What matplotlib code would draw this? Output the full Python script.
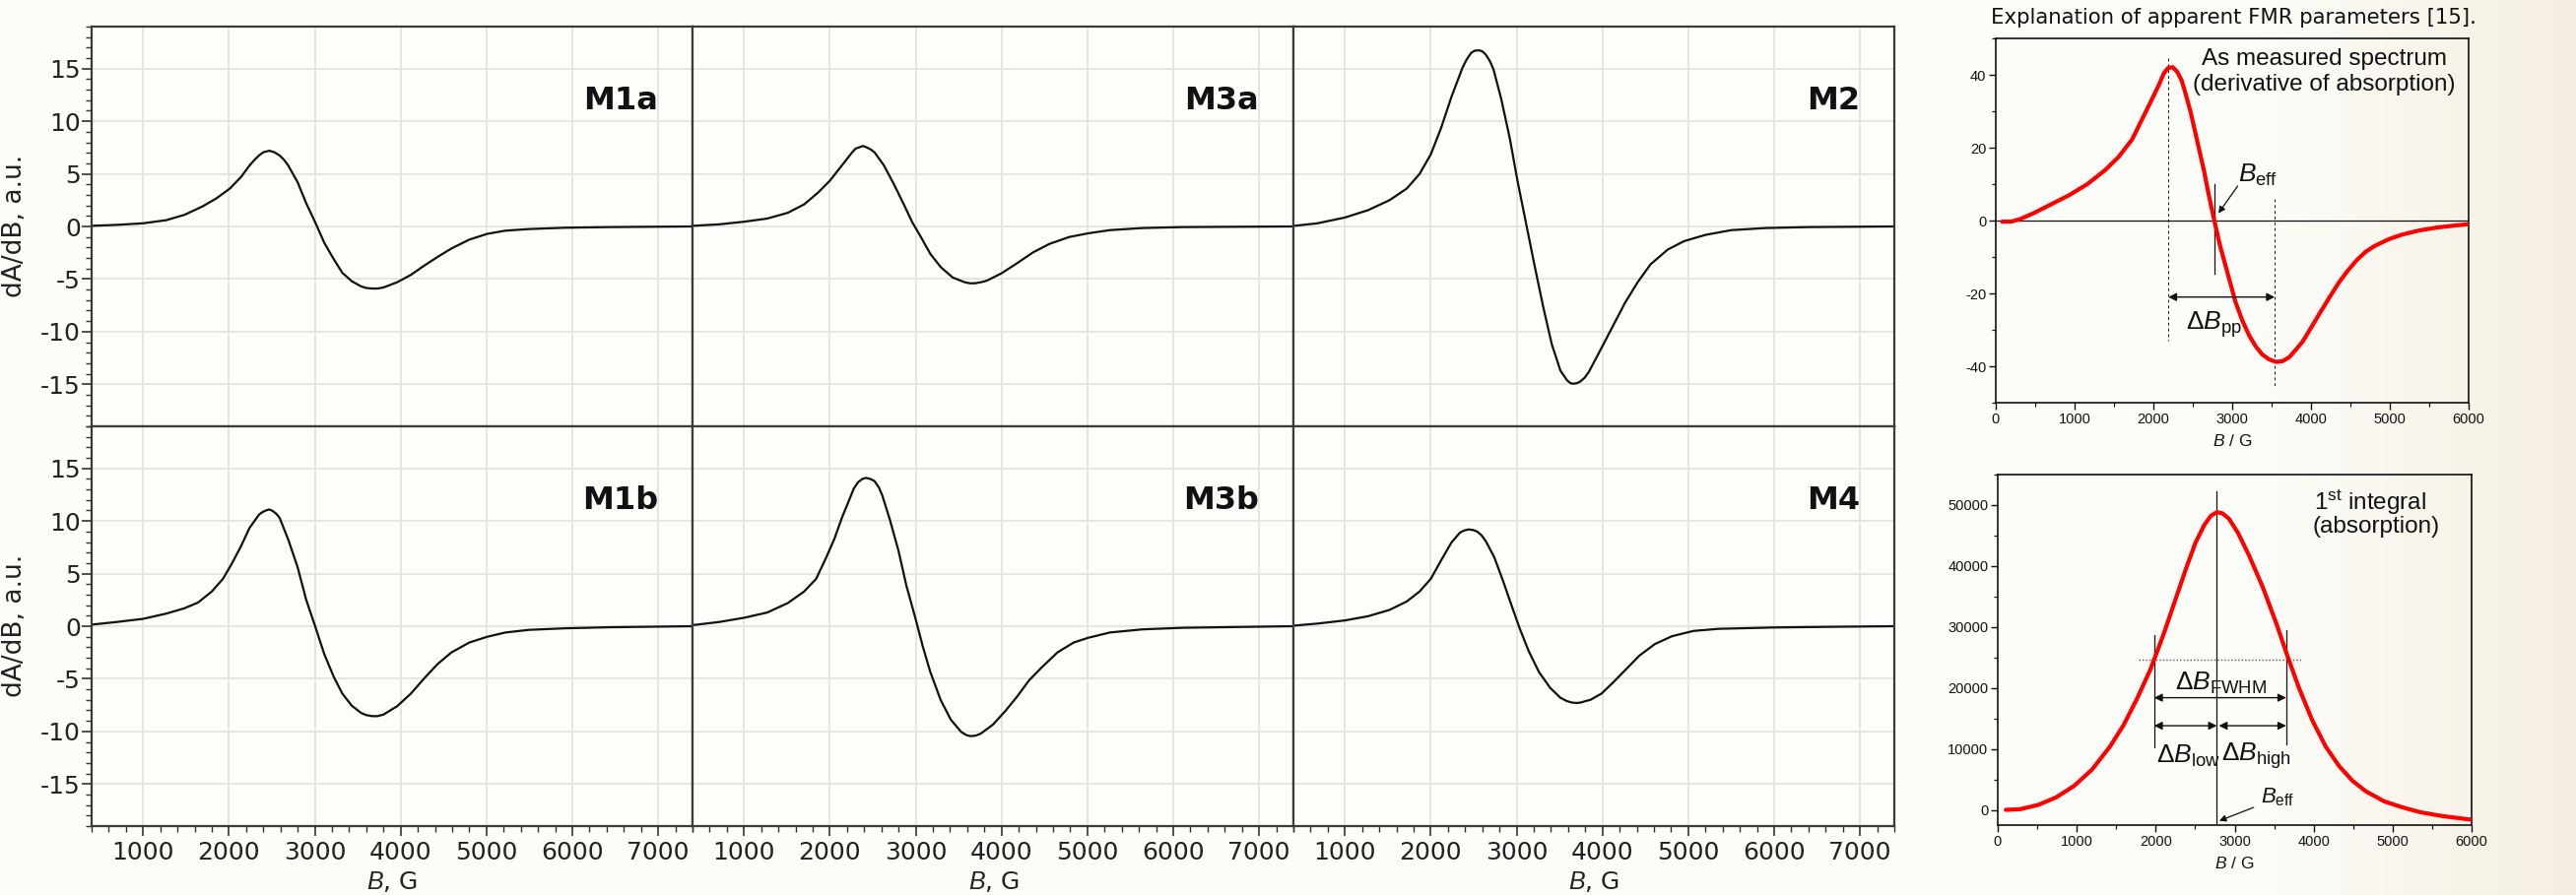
import numpy as np
import matplotlib
matplotlib.use('Agg')
import matplotlib.pyplot as plt
from matplotlib.ticker import MultipleLocator

plt.rcParams['font.family'] = ['DejaVu Sans']
plt.rcParams['axes.unicode_minus'] = False
plt.rcParams['mathtext.fontset'] = 'custom'
plt.rcParams['mathtext.rm'] = 'Liberation Sans'
plt.rcParams['mathtext.it'] = 'Liberation Sans:italic'
plt.rcParams['mathtext.bf'] = 'Liberation Sans:bold'

# ---- measured spectra (B in G, dA/dB in a.u.) ----
m1a_b = [400, 690, 1000, 1270, 1480, 1690, 1850, 2010, 2140, 2240, 2300, 2350, 2400, 2470,
         2530, 2590, 2640, 2690, 2800, 2900, 3010, 3110, 3220, 3320, 3430, 3540, 3600, 3670,
         3730, 3800, 3960, 4120, 4270, 4430, 4590, 4800, 5010, 5220, 5490, 5910, 6430, 7400]
m1a_v = [0.06, 0.15, 0.3, 0.6, 1.1, 1.9, 2.65, 3.6, 4.7, 5.8, 6.35, 6.75, 7.05, 7.2,
         7.05, 6.75, 6.35, 5.8, 4.2, 2.2, 0.3, -1.55, -3.1, -4.4, -5.2, -5.7, -5.85, -5.9,
         -5.9, -5.8, -5.3, -4.6, -3.75, -2.9, -2.1, -1.25, -0.7, -0.4, -0.25, -0.12, -0.06, 0.0]

m1b_b = [400, 690, 1000, 1270, 1480, 1640, 1800, 1930, 2030, 2140, 2240, 2350, 2390, 2430,
         2470, 2510, 2550, 2590, 2690, 2800, 2900, 3010, 3110, 3220, 3320, 3430, 3540, 3600,
         3670, 3730, 3800, 3960, 4120, 4270, 4430, 4590, 4800, 5010, 5220, 5490, 5910, 6430, 7400]
m1b_v = [0.15, 0.4, 0.7, 1.2, 1.7, 2.25, 3.3, 4.5, 5.9, 7.6, 9.35, 10.6, 10.85, 11.0,
         11.1, 10.95, 10.7, 10.3, 8.25, 5.6, 2.5, -0.15, -2.65, -4.8, -6.4, -7.55, -8.25, -8.45,
         -8.55, -8.55, -8.4, -7.6, -6.4, -5.0, -3.6, -2.5, -1.55, -1.0, -0.6, -0.35, -0.2, -0.1, 0.0]

m3a_b = [400, 710, 1000, 1270, 1510, 1700, 1860, 2000, 2140, 2260, 2300, 2350, 2385, 2420,
         2470, 2520, 2630, 2750, 2870, 2960, 3060, 3170, 3290, 3430, 3570, 3630, 3690, 3760,
         3830, 4000, 4180, 4370, 4560, 4790, 5010, 5260, 5640, 6110, 7400]
m3a_v = [0.06, 0.2, 0.45, 0.75, 1.3, 2.1, 3.2, 4.35, 5.8, 7.05, 7.4, 7.55, 7.65, 7.55,
         7.35, 7.05, 5.8, 3.95, 1.95, 0.4, -1.0, -2.6, -3.85, -4.85, -5.3, -5.4, -5.4, -5.3,
         -5.15, -4.45, -3.5, -2.45, -1.65, -1.0, -0.65, -0.35, -0.15, -0.06, 0.0]

m3b_b = [400, 710, 1000, 1270, 1510, 1700, 1840, 1950, 2050, 2140, 2240, 2280, 2330, 2380,
         2420, 2470, 2520, 2570, 2610, 2700, 2800, 2890, 2990, 3080, 3170, 3290, 3410, 3530,
         3590, 3640, 3700, 3760, 3900, 4040, 4180, 4320, 4470, 4650, 4840, 5010, 5260, 5640,
         6110, 7400]
m3b_v = [0.1, 0.4, 0.8, 1.3, 2.2, 3.3, 4.5, 6.4, 8.25, 10.3, 12.3, 13.1, 13.7, 14.0,
         14.1, 14.0, 13.8, 13.2, 12.45, 10.1, 7.15, 3.9, 0.95, -1.85, -4.35, -7.0, -8.9, -10.05,
         -10.35, -10.45, -10.4, -10.2, -9.35, -8.1, -6.7, -5.15, -3.9, -2.5, -1.55, -1.1, -0.6, -0.3,
         -0.15, 0.0]

m2_b = [400, 680, 1000, 1270, 1520, 1720, 1870, 2000, 2120, 2240, 2370, 2420, 2470, 2510,
        2560, 2600, 2640, 2690, 2730, 2820, 2920, 3010, 3110, 3210, 3310, 3410, 3510, 3590,
        3630, 3660, 3700, 3740, 3790, 3840, 3960, 4110, 4260, 4410, 4560, 4760, 4950, 5200,
        5500, 5900, 6400, 7400]
m2_v = [0.05, 0.3, 0.85, 1.55, 2.5, 3.6, 5.0, 6.85, 9.35, 12.3, 15.1, 15.9, 16.5, 16.7,
        16.75, 16.65, 16.35, 15.7, 14.95, 12.15, 8.4, 4.35, 0.3, -3.75, -7.65, -11.2, -13.7, -14.65,
        -14.9, -14.95, -14.9, -14.75, -14.4, -13.85, -12.0, -9.65, -7.3, -5.3, -3.6, -2.2, -1.4, -0.8,
        -0.35, -0.15, -0.06, 0.0]

m4_b = [400, 680, 1000, 1270, 1520, 1720, 1870, 2000, 2120, 2240, 2340, 2390, 2440, 2490,
        2540, 2590, 2640, 2740, 2840, 2940, 3040, 3140, 3260, 3390, 3510, 3580, 3640, 3700,
        3750, 3810, 3860, 3990, 4130, 4280, 4430, 4610, 4810, 5060, 5350, 6000, 6650, 7400]
m4_v = [0.05, 0.25, 0.55, 0.95, 1.55, 2.35, 3.3, 4.5, 6.25, 7.95, 8.9, 9.1, 9.2, 9.15,
        9.0, 8.65, 8.1, 6.55, 4.35, 2.0, -0.3, -2.35, -4.35, -5.85, -6.8, -7.1, -7.25, -7.3,
        -7.25, -7.1, -7.0, -6.4, -5.3, -4.05, -2.8, -1.7, -0.95, -0.45, -0.25, -0.12, -0.06, 0.0]

panel_names = ['M1a', 'M3a', 'M2', 'M1b', 'M3b', 'M4']
panel_b = [m1a_b, m3a_b, m2_b, m1b_b, m3b_b, m4_b]
panel_v = [m1a_v, m3a_v, m2_v, m1b_v, m3b_v, m4_v]

# ---- explanation panels ----
der_b = [80, 194, 308, 478, 706, 934, 1162, 1390, 1560, 1731, 1845, 1959, 2073, 2130,
         2187, 2244, 2300, 2358, 2414, 2471, 2528, 2585, 2642, 2699, 2773, 2842, 2927, 2984,
         3041, 3126, 3212, 3297, 3383, 3468, 3554, 3639, 3724, 3810, 3895, 4009, 4123, 4237,
         4351, 4465, 4579, 4692, 4806, 4977, 5148, 5376, 5604, 5831, 6000]
der_v = [-0.3, -0.3, 0.4, 2.0, 4.5, 7.0, 10.0, 13.9, 17.5, 22.3, 27.3, 32.3, 37.4, 40.3,
         41.9, 42.1, 40.9, 38.5, 34.4, 29.9, 24.5, 19.1, 13.7, 7.4, 0.0, -6.6, -13.3, -17.8,
         -22.3, -27.3, -31.4, -34.5, -36.8, -38.1, -38.8, -38.6, -37.5, -35.4, -33.2, -29.1, -25.0, -21.0,
         -17.1, -13.8, -10.9, -8.6, -7.0, -5.2, -3.9, -2.7, -1.9, -1.35, -1.0]

abs_b = [102, 284, 512, 739, 967, 1195, 1422, 1593, 1763, 1934, 2105, 2275, 2389, 2503,
         2617, 2702, 2776, 2844, 2929, 3043, 3185, 3356, 3527, 3669, 3811, 3982, 4152, 4323,
         4494, 4664, 4892, 5119, 5347, 5631, 6000]
abs_v = [0, 110, 810, 2050, 3930, 6630, 10400, 13900, 18210, 23060, 28990, 35450, 39760, 43800,
         46770, 48280, 48820, 48650, 47740, 45420, 41650, 36530, 30600, 25220, 20100, 14710, 10400, 7170,
         4740, 3020, 1400, 430, -380, -1020, -1620]

b_eff = 2775
b_pp = [2190, 3540]
b_fwhm = [1980, 3652]
half_max = 24570

W, H = 2615, 909
fig = plt.figure(figsize=(W / 100, H / 100), dpi=100, facecolor='#fbfbf7')

# soft beige tint towards the right edge
bg = fig.add_axes([0, 0, 1, 1], zorder=-10)
t = np.clip((np.linspace(0, 1, 400) - 0.88) / 0.12, 0, 1)
c0 = np.array([252, 252, 248]) / 255
c1 = np.array([244, 239, 224]) / 255
img = (c0[None, :] * (1 - t[:, None]) + c1[None, :] * t[:, None])[None, :, :]
bg.imshow(img, extent=[0, 1, 0, 1], aspect='auto')
bg.axis('off')

gs = fig.add_gridspec(2, 3, left=93 / W, right=1923 / W, bottom=1 - 839 / H, top=1 - 27 / H,
                      wspace=0, hspace=0)

for i, (name, b, v) in enumerate(zip(panel_names, panel_b, panel_v)):
    r, c = divmod(i, 3)
    ax = fig.add_subplot(gs[r, c])
    ax.set_facecolor('#fdfdfa')
    ax.plot(b, v, color='#111111', lw=1.6, solid_joinstyle='round')
    ax.set_xlim(400, 7400)
    ax.set_ylim(-19, 19)
    ax.xaxis.set_major_locator(MultipleLocator(1000))
    ax.xaxis.set_minor_locator(MultipleLocator(200))
    ax.yaxis.set_major_locator(MultipleLocator(5))
    ax.yaxis.set_minor_locator(MultipleLocator(1))
    ax.grid(which='major', color='#e3e3e0', lw=1.3)
    ax.set_axisbelow(True)
    for s in ax.spines.values():
        s.set_color('#3a3a3a')
        s.set_linewidth(1.6)
    ax.tick_params(which='both', direction='out', colors='#333333', labelcolor='#222222',
                   labelsize=18)
    ax.tick_params(axis='y', which='major', length=7, width=1.2, pad=1)
    ax.tick_params(axis='x', which='major', length=7, width=1.2, pad=4)
    ax.tick_params(which='minor', length=4, width=1.0)
    if c != 0:
        ax.tick_params(which='both', left=False, labelleft=False)
    if r != 1:
        ax.tick_params(which='both', bottom=False, labelbottom=False)
    ax.text(7000, 11.9, name, ha='right', va='center', fontsize=23, fontweight='bold',
            color='#111111')

for yc in [1 - 229.5 / H, 1 - 635.5 / H]:
    fig.text(2 / W, yc, 'dA/dB, a.u.', rotation=90, ha='left', va='center', fontsize=19,
             color='#222222')
for xc in [398, 1009, 1618]:
    fig.text(xc / W, 1 / H, '$B$, G', ha='center', va='bottom', fontsize=18, color='#222222')

fig.text(2267 / W, 1 - 18 / H, 'Explanation of apparent FMR parameters [15].', ha='center',
         va='center', fontsize=15.3, color='#111111')

lab = dict(family='Liberation Sans', color='#111111')


def style_small(ax):
    ax.set_facecolor('none')
    for s in ax.spines.values():
        s.set_color('#111111')
        s.set_linewidth(1.2)
    ax.xaxis.set_major_locator(MultipleLocator(1000))
    ax.xaxis.set_minor_locator(MultipleLocator(500))
    ax.tick_params(which='both', direction='out', colors='#111111', labelsize=10.5)
    ax.tick_params(which='major', length=5, width=1.0, pad=2)
    ax.tick_params(which='minor', length=3, width=0.9)
    for tl in ax.get_xticklabels() + ax.get_yticklabels():
        tl.set_family('Liberation Sans')
    ax.set_xlabel('$B$ / G', fontsize=12.5, labelpad=5, **lab)


# derivative spectrum
ax1 = fig.add_axes([2026 / W, 1 - 409 / H, 480 / W, 370 / H])
ax1.set_xlim(0, 6000)
ax1.set_ylim(-50, 50)
ax1.yaxis.set_major_locator(MultipleLocator(20))
ax1.yaxis.set_minor_locator(MultipleLocator(10))
style_small(ax1)
ax1.axhline(0, color='#111111', lw=0.9)
ax1.plot(der_b, der_v, color='#ff0000', lw=3.0, solid_capstyle='round',
         solid_joinstyle='round', zorder=3)
ax1.plot([b_pp[0]] * 2, [44.5, -33], color='#111111', lw=0.7, ls=(0, (3, 3)))
ax1.plot([b_pp[1]] * 2, [6, -46], color='#111111', lw=0.7, ls=(0, (3, 3)))
ax1.plot([b_eff] * 2, [10, -14.7], color='#111111', lw=0.9)
ax1.annotate('', xy=(b_pp[0], -21), xytext=(b_pp[1], -21),
             arrowprops=dict(arrowstyle='<|-|>', color='#111111', lw=1.0, mutation_scale=12,
                             shrinkA=0, shrinkB=0))
ax1.annotate('', xy=(b_eff + 50, 2), xytext=(3070, 9.5),
             arrowprops=dict(arrowstyle='-|>', color='#111111', lw=0.9, mutation_scale=10,
                             shrinkA=0, shrinkB=0))
ax1.text(3080, 12.5, r'$B_{\rm eff}$', fontsize=19, ha='left', va='center', **lab)
ax1.text(2770, -28.5, r'$\Delta B_{\rm pp}$', fontsize=19, ha='center', va='center', **lab)
ax1.text(4170, 44.3, 'As measured spectrum', fontsize=17.5, ha='center', va='center', **lab)
ax1.text(4170, 37.4, '(derivative of absorption)', fontsize=17.5, ha='center', va='center',
         **lab)

# first integral
ax2 = fig.add_axes([2028 / W, 1 - 838 / H, 481 / W, 356 / H])
ax2.set_xlim(0, 6000)
ax2.set_ylim(-2500, 55000)
ax2.yaxis.set_major_locator(MultipleLocator(10000))
ax2.yaxis.set_minor_locator(MultipleLocator(5000))
style_small(ax2)
ax2.plot(abs_b, abs_v, color='#ff0000', lw=3.0, solid_capstyle='round',
         solid_joinstyle='round', zorder=3)
ax2.plot([b_eff] * 2, [52200, -2500], color='#111111', lw=0.9)
ax2.plot([1780, 3860], [half_max] * 2, color='#555555', lw=1.0, ls=(0, (1, 1.5)))
ax2.plot([b_fwhm[0]] * 2, [10200, 28600], color='#111111', lw=0.9)
ax2.plot([b_fwhm[1]] * 2, [10700, 29500], color='#111111', lw=0.9)
arr = dict(arrowstyle='<|-|>', color='#111111', lw=1.0, mutation_scale=12, shrinkA=0, shrinkB=0)
ax2.annotate('', xy=(b_fwhm[0], 18400), xytext=(b_fwhm[1], 18400), arrowprops=arr)
ax2.annotate('', xy=(b_fwhm[0], 13800), xytext=(b_eff, 13800), arrowprops=arr)
ax2.annotate('', xy=(b_eff + 25, 13800), xytext=(b_fwhm[1], 13800), arrowprops=arr)
ax2.annotate('', xy=(b_eff + 30, -1800), xytext=(3240, 400),
             arrowprops=dict(arrowstyle='-|>', color='#111111', lw=0.9, mutation_scale=10,
                             shrinkA=0, shrinkB=0))
ax2.text(2830, 20800, r'$\Delta B_{\rm FWHM}$', fontsize=19, ha='center', va='center', **lab)
ax2.text(2414, 8800, r'$\Delta B_{\rm low}$', fontsize=19, ha='center', va='center', **lab)
ax2.text(3271, 8800, r'$\Delta B_{\rm high}$', fontsize=19, ha='center', va='center', **lab)
ax2.text(3330, 2000, r'$B_{\rm eff}$', fontsize=16, ha='left', va='center', **lab)
ax2.text(4721, 50500, r'$1^{\rm st}$ integral', fontsize=17.5, ha='center', va='center', **lab)
ax2.text(4787, 46500, '(absorption)', fontsize=17.5, ha='center', va='center', **lab)

fig.savefig('out.png', dpi=100, facecolor=fig.get_facecolor())
